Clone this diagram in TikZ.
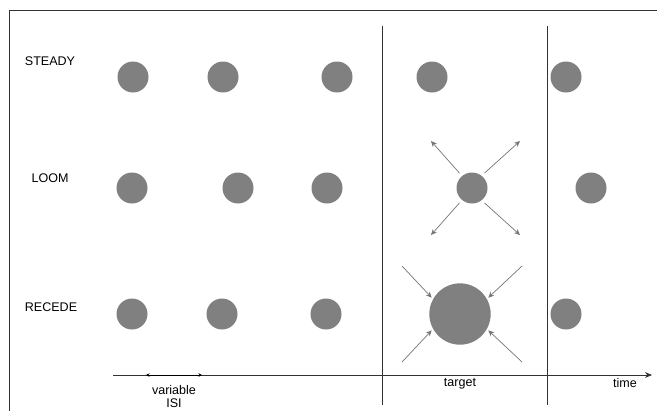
\documentclass[tikz,border=0pt]{standalone}
\usepackage{fontspec}
\setmainfont{Liberation Sans}
\usetikzlibrary{arrows.meta}

\tikzset{
    dot/.style={circle, fill=dotgray, draw=none, minimum size=0.93cm, inner sep=0pt},
    bigdot/.style={dot, minimum size=1.84cm, outer sep=0.06cm},
    pointer/.style={draw=arrowgray, line width=0.6pt, -{Stealth[length=5pt, width=4.5pt]}},
    label/.style={font=\fontsize{10.7}{13.5}\selectfont, inner sep=0pt},
}
\definecolor{dotgray}{RGB}{128,128,128}
\definecolor{arrowgray}{RGB}{118,118,118}
\definecolor{linegray}{RGB}{50,50,50}

\begin{document}
\begin{tikzpicture}[x=0.03cm, y=-0.03cm, >=stealth, semithick]
            \useasboundingbox (0,0) rectangle (657,410);
            \fill[white] (0,0) rectangle (657,410);

            % frame, only top and left edge inside the picture
            \coordinate (fbl) at (9,412);
            \coordinate (ftr) at (659,10);
            \draw[linegray, line width=0.8pt] (fbl) |- (ftr);

            % target window
            \coordinate (wl0) at (382,26);
            \coordinate (wl1) at (382,405);
            \coordinate (wr0) at (547,26);
            \coordinate (wr1) at (547,405);
            \draw[linegray, line width=0.8pt] (wl0) -- (wl1);
            \draw[linegray, line width=0.8pt] (wr0) -- (wr1);

            % rows
            \node[label] (steady) at (50,61) {STEADY};
            \node[label] (loom) at (50,178) {LOOM};
            \node[label] (recede) at (51,307) {RECEDE};

            \node[dot] (s1) at (133,77) {};
            \node[dot] (s2) at (223,77) {};
            \node[dot] (s3) at (337,77) {};
            \node[dot] (s4) at (432,77) {};
            \node[dot] (s5) at (566,77) {};

            \node[dot] (l1) at (132,188) {};
            \node[dot] (l2) at (238,188) {};
            \node[dot] (l3) at (327,188) {};
            \node[dot, outer sep=0.12cm] (l4) at (472,188) {};
            \node[dot] (l5) at (591,188) {};

            \node[dot] (r1) at (132,314) {};
            \node[dot] (r2) at (222,314) {};
            \node[dot] (r3) at (326,314) {};
            \node[bigdot] (r4) at (460,314) {};
            \node[dot] (r5) at (566,314) {};

            % loom: expanding
            \coordinate (lonw) at (431,141);
            \coordinate (lone) at (520,141);
            \coordinate (losw) at (431,235);
            \coordinate (lose) at (520,235);
            \draw[pointer] (l4.130) -- (lonw);
            \draw[pointer] (l4.50) -- (lone);
            \draw[pointer] (l4.230) -- (losw);
            \draw[pointer] (l4.-50) -- (lose);

            % recede: shrinking
            \coordinate (rnw) at (402,266);
            \coordinate (rne) at (522,266);
            \coordinate (rsw) at (402,362);
            \coordinate (rse) at (522,362);
            \draw[pointer] (rnw) -- (r4.150);
            \draw[pointer] (rne) -- (r4.30);
            \draw[pointer] (rsw) -- (r4.210);
            \draw[pointer] (rse) -- (r4.-30);

            % time axis
            \coordinate (t0) at (113,375);
            \coordinate (t1) at (652,375);
            \draw[linegray, line width=0.7pt, -{Stealth[length=6pt, width=5pt]}] (t0) -- (t1);
            \coordinate (isia) at (146,375);
            \coordinate (isib) at (202,375);
            \draw[black, line width=0.7pt, {Stealth[length=3pt, width=3pt]}-{Stealth[length=3pt, width=3pt]}] (isia) -- (isib);

            \node[label, anchor=north, align=center, font=\fontsize{10.7}{10.3}\selectfont] (isi) at (174,385.5) {variable\\ISI};
            \node[label, anchor=north] (target) at (460,378) {target};
            \node[label, anchor=north] (time) at (625,378) {time};
        \end{tikzpicture}
\end{document}
